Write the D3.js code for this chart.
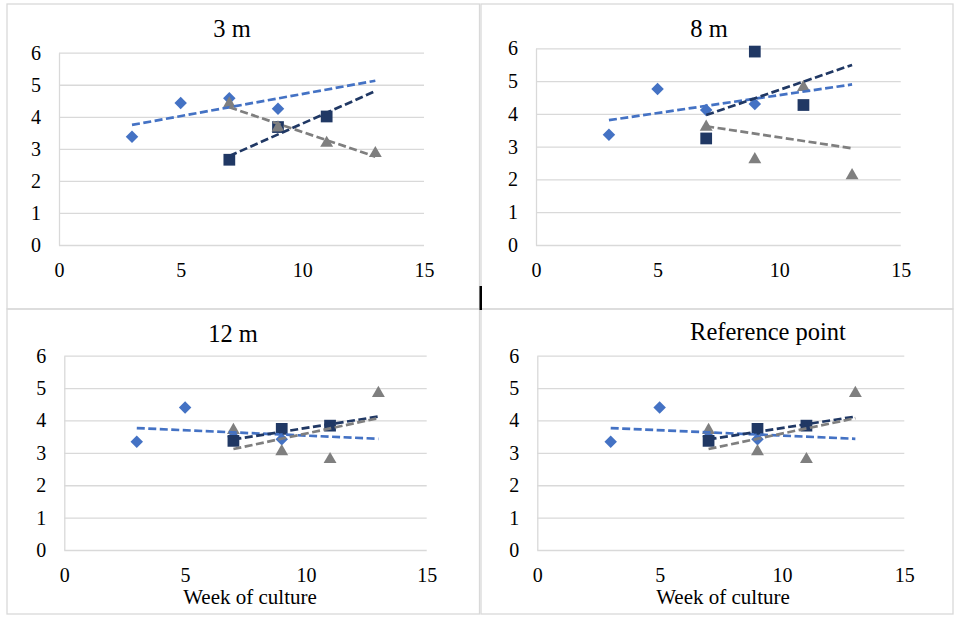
<!DOCTYPE html>
<html>
<head>
<meta charset="utf-8">
<script src="https://cdn.jsdelivr.net/npm/d3@7"></script>
<style>
    body { margin: 0; background: #fff; }
    svg text { font-family: "Liberation Serif", "Times New Roman", serif; fill: #000; }
</style>
</head>
<body>
<div id="chart"></div>
<script>

    var titles = ['3 m', '8 m', '12 m', 'Reference point'];
    var xTicks = [0, 5, 10, 15];
    var yTicks = [0, 1, 2, 3, 4, 5, 6];
    var xAxisTitle = 'Week of culture';

    var weeksDiamond = [3, 5, 7, 9];
    var weeksSquare = [7, 9, 11];
    var weeksTriangle = [7, 9, 11, 13];
    var trendTo = 13;

    // values per panel, same order as titles
    var diamondValues = [
        [3.38, 4.43, 4.58, 4.25],
        [3.36, 4.76, 4.12, 4.30],
        [3.34, 4.40, 3.50, 3.42],
        [3.34, 4.40, 3.50, 3.42]
    ];
    var squareValues = [
        [2.66, 3.68, 4.01],
        [3.25, 5.90, 4.27],
        [3.37, 3.74, 3.84],
        [3.37, 3.74, 3.84]
    ];
    var triangleValues = [
        [4.41, 3.66, 3.18, 2.86],
        [3.60, 2.61, 4.81, 2.12],
        [3.70, 3.04, 2.80, 4.84],
        [3.70, 3.04, 2.80, 4.84]
    ];

    // where each panel sits on the page
    var layout = [
        {box: [7, 4, 479.5, 309], plot: [59, 424, 52.7, 245], title: [232, 37], xTitle: null},
        {box: [481, 4, 953, 309], plot: [536, 900.7, 48.3, 245], title: [709, 37], xTitle: null},
        {box: [7, 309, 479.5, 614], plot: [64.3, 426.7, 355.7, 550], title: [233, 342], xTitle: [250, 604]},
        {box: [481, 309, 953, 614], plot: [537.3, 904.3, 355.7, 550], title: [768, 340], xTitle: [723, 604]}
    ];

    var series = [
        {name: 'diamond', weeks: weeksDiamond, values: diamondValues, color: '#4472C4', symbol: d3.symbolSquare, size: 78, rotate: 45},
        {name: 'square', weeks: weeksSquare, values: squareValues, color: '#203864', symbol: d3.symbolSquare, size: 138, rotate: 0},
        {name: 'triangle', weeks: weeksTriangle, values: triangleValues, color: '#7F7F7F', symbol: d3.symbolTriangle, size: 72, rotate: 0}
    ];

    var svg = d3.select('#chart')
        .append('svg')
        .attr('width', 960)
        .attr('height', 622)
    ;

    function fitLine(xs, ys) {
        var mx = d3.mean(xs), my = d3.mean(ys);
        var num = d3.sum(xs, function (x, i) { return (x - mx) * (ys[i] - my); });
        var den = d3.sum(xs, function (x) { return (x - mx) * (x - mx); });
        var slope = num / den;
        return function (x) { return my + slope * (x - mx); };
    }

    layout.forEach(function (p, pi) {

        svg.append('rect')
            .attr('x', p.box[0])
            .attr('y', p.box[1])
            .attr('width', p.box[2] - p.box[0])
            .attr('height', p.box[3] - p.box[1])
            .attr('fill', 'none')
            .attr('stroke', '#D9D9D9')
            .attr('stroke-width', 1.3)
        ;

        var x = d3.scaleLinear().domain([0, 15]).range([p.plot[0], p.plot[1]]);
        var y = d3.scaleLinear().domain([0, 6]).range([p.plot[3], p.plot[2]]);

        var gy = svg.append('g')
            .attr('transform', 'translate(' + p.plot[0] + ',0)')
            .call(d3.axisLeft(y).tickValues(yTicks).tickFormat(d3.format('d'))
                .tickSize(-(p.plot[1] - p.plot[0])).tickSizeOuter(0).tickPadding(18))
        ;
        gy.attr('font-size', 20).attr('font-family', null);
        gy.selectAll('line').attr('stroke', '#D9D9D9').attr('stroke-width', 1.3);
        gy.select('.domain').attr('stroke', '#D9D9D9').attr('stroke-width', 1.3);

        var gx = svg.append('g')
            .attr('transform', 'translate(0,' + p.plot[3] + ')')
            .call(d3.axisBottom(x).tickValues(xTicks).tickFormat(d3.format('d')).tickSize(0).tickPadding(17.5))
        ;
        gx.attr('font-size', 20).attr('font-family', null);
        gx.select('.domain').remove();

        svg.append('text')
            .attr('x', p.title[0])
            .attr('y', p.title[1])
            .attr('text-anchor', 'middle')
            .attr('font-size', 24.5)
            .text(titles[pi])
        ;

        if (p.xTitle) {
            svg.append('text')
                .attr('x', p.xTitle[0])
                .attr('y', p.xTitle[1])
                .attr('text-anchor', 'middle')
                .attr('font-size', 21)
                .text(xAxisTitle)
            ;
        }

        // markers
        series.forEach(function (s) {
            var vals = s.values[pi];
            svg.append('g')
                .selectAll('path')
                .data(s.weeks)
                .enter()
                .append('path')
                .attr('d', d3.symbol().type(s.symbol).size(s.size))
                .attr('transform', function (w, i) {
                    return 'translate(' + x(w) + ',' + y(vals[i]) + ') rotate(' + s.rotate + ')';
                })
                .attr('fill', s.color)
            ;
        });

        // trendlines on top
        series.forEach(function (s) {
            var f = fitLine(s.weeks, s.values[pi]);
            var x0 = d3.min(s.weeks);
            var line = d3.line()
                .x(function (d) { return x(d); })
                .y(function (d) { return y(f(d)); })
            ;
            svg.append('path')
                .attr('d', line([x0, trendTo]))
                .attr('fill', 'none')
                .attr('stroke', s.color)
                .attr('stroke-width', 2.7)
                .attr('stroke-dasharray', '8,3.5')
            ;
        });

    });

    svg.append('rect')
        .attr('x', 479.5)
        .attr('y', 286)
        .attr('width', 2.5)
        .attr('height', 24)
        .attr('fill', '#000')
    ;

</script>
</body>
</html>
